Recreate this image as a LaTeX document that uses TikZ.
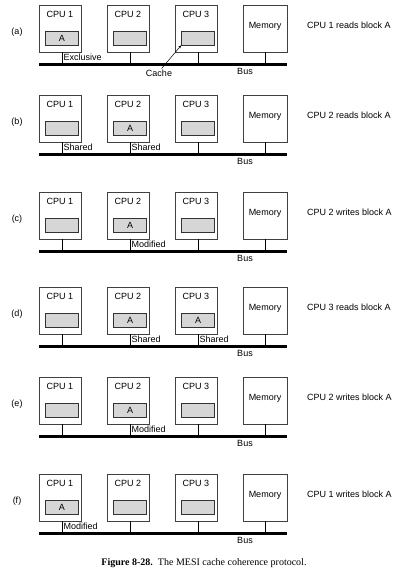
\documentclass[tikz,border=0pt]{standalone}
\usepackage{fontspec}
\setmainfont{Liberation Serif}
\setsansfont{Liberation Sans}
\usetikzlibrary{arrows.meta,positioning}
\tikzset{
every picture/.style={x=1pt,y=-1pt},
every node/.style={font=\sffamily\fontsize{9}{10}\selectfont, inner sep=1pt},
unit/.style={draw=black!75, line width=0.6pt, minimum width=42pt, minimum height=47pt},
cachebox/.style={draw=black!80, fill=black!16, line width=0.6pt, minimum width=33pt, minimum height=14pt, inner sep=0pt},
wire/.style={line width=0.5pt},
busline/.style={line width=2.6pt}
}

\begin{document}
\begin{tikzpicture}
    \useasboundingbox (0,0) rectangle (407,578);
    \foreach \p/\y/\ca/\cb/\cc/\sa/\sb/\sc/\txt in {
        a/5/A///Exclusive///CPU 1 reads block A,
        b/95//A//Shared/Shared//CPU 2 reads block A,
        c/192//A///Modified//CPU 2 writes block A,
        d/287//A/A//Shared/Shared/CPU 3 reads block A,
        e/377//A///Modified//CPU 2 writes block A,
        f/474/A///Modified///CPU 1 writes block A} {
      \coordinate (busw\p) at (39,\y+59.5);
      \coordinate (buse\p) at (287,\y+59.5);
      \foreach \i/\c/\s in {1/\ca/\sa, 2/\cb/\sb, 3/\cc/\sc} {
        \pgfmathsetmacro{\cx}{60 + 68*(\i - 1)}
        \node[unit] (cpu\i\p) at (\cx,\y+23.5) {};
        \node[below=5pt of cpu\i\p.north] (name\i\p) {CPU \i};
        \node[cachebox] (cache\i\p) at (\cx+2,\y+33) {\c};
        \draw[wire] (cache\i\p.center |- cpu\i\p.south) -- (cache\i\p.center |- busw\p);
        \node[anchor=west] (state\i\p) at (\cx+2.5,\y+52) {\s};
      }
      \node[unit, minimum width=44pt, text depth=6pt] (mem\p) at (265,\y+23.5) {Memory};
      \draw[wire] (mem\p.south) -- (mem\p.south |- busw\p);
      \draw[busline] (busw\p) -- (buse\p);
      \node (bus\p) at (245,\y+66) {Bus};
      \node (tag\p) at (17,\y+27) {(\p)};
      \node[anchor=west] (desc\p) at (306,\y+20) {\txt};
    }
    \node (cachelbl) at (159,73) {Cache};
    \draw[wire, -{Stealth[length=3pt,width=2.4pt]}] (cachelbl.60) -- (cache3a.south west);
    \node[font=\rmfamily\fontsize{10}{12}\selectfont] (caption) at (204,563)
      {\textbf{Figure 8-28.}\ \ The MESI cache coherence protocol.};
  \end{tikzpicture}
\end{document}
